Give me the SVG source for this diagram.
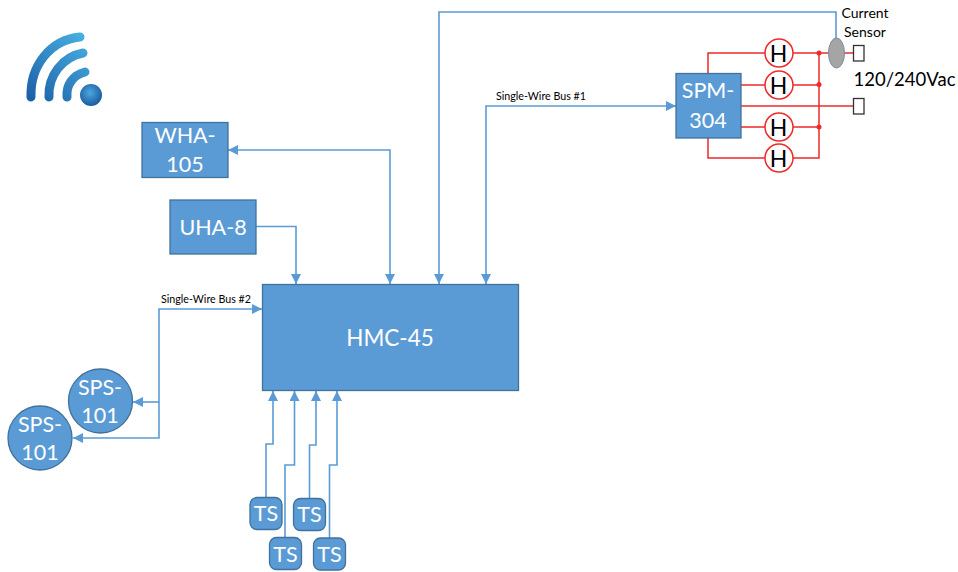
<svg xmlns="http://www.w3.org/2000/svg" width="958" height="572" viewBox="0 0 958 572">
<style>
text{font-family:Lato,"Open Sans","Liberation Sans",sans-serif;text-anchor:middle}
.box{fill:#5b9bd5;stroke:#41719c;stroke-width:1.3}
.lbl{fill:#fff;font-size:21.500px}
.hmc{fill:#fff;font-size:22.500px}
.blue{fill:none;stroke:#5b9bd5;stroke-width:1.6}
.red{fill:none;stroke:#ee2a2a;stroke-width:1.5}
.h{fill:#fff;stroke:#ee2a2a;stroke-width:1.5}
.htext{fill:#000;font-size:23px}
.dark{fill:#000}
.dot{fill:#ee2a2a}
.plug{fill:#fff;stroke:#333;stroke-width:1.3}
.arc{fill:none;stroke:url(#wf);stroke-width:9;stroke-linecap:round}
</style>
<defs>
<marker id="a" markerUnits="userSpaceOnUse" markerWidth="11" markerHeight="11" refX="10" refY="5" orient="auto-start-reverse"><path d="M0,0L10,5L0,10Z" fill="#5b9bd5"/></marker>
<linearGradient id="wf" gradientUnits="userSpaceOnUse" x1="30" y1="100" x2="85" y2="35"><stop offset="0" stop-color="#1d5fa6"/><stop offset="1" stop-color="#48b0e2"/></linearGradient>
<radialGradient id="wd" cx="0.45" cy="0.4" r="0.6"><stop offset="0" stop-color="#4aa8e0"/><stop offset="1" stop-color="#1b5a9e"/></radialGradient>
<filter id="soft"><feGaussianBlur stdDeviation="0.6"/></filter>
</defs>
<g id="wifi-icon" filter="url(#soft)">
<path class="arc" d="M31,97C30,66 50,40 80,37"/>
<path class="arc" d="M49,97C48,76 62,57 83,53"/>
<path class="arc" d="M67,97C66,85 73,75 85,72"/>
<circle cx="91" cy="95" r="11" fill="url(#wd)"/>
</g>
<g id="connectors">
<path class="blue" marker-start="url(#a)" marker-end="url(#a)" d="M228,150H390V284"/>
<path class="blue" marker-end="url(#a)" d="M256,226.500H296V284"/>
<path class="blue" marker-end="url(#a)" d="M836,38V12H439V284"/>
<path class="blue" marker-start="url(#a)" marker-end="url(#a)" d="M486,284V106H676"/>
<path class="blue" marker-start="url(#a)" marker-end="url(#a)" d="M262,309H159V438H73"/>
<path class="blue" marker-end="url(#a)" d="M159,402H133"/>
<path class="blue" marker-end="url(#a)" d="M266,497V444H273V391"/>
<path class="blue" marker-end="url(#a)" d="M285,537V465H294.500V391"/>
<path class="blue" marker-end="url(#a)" d="M309.500,498V445H316V391"/>
<path class="blue" marker-end="url(#a)" d="M329.500,538V465H337V391"/>
<path class="red" d="M708,73V53H765M793,53H828M844,53H853"/>
<path class="red" d="M741,85H765M793,85H819"/>
<path class="red" d="M741,106H853"/>
<path class="red" d="M741,127H765M793,127H819"/>
<path class="red" d="M708,138V158H765M793,158H819V53"/>
<circle class="dot" cx="819" cy="53" r="2.500"/>
<circle class="dot" cx="819" cy="84.500" r="2.500"/>
<circle class="dot" cx="819" cy="127" r="2.500"/>
</g>
<g id="hmc-45"><rect class="box" x="262.500" y="284.500" width="256" height="106"/><text class="hmc" x="390" y="346">HMC-45</text></g>
<g id="wha-105"><rect class="box" x="142" y="122.500" width="86" height="55"/><text class="lbl" x="185" y="143">WHA-</text><text class="lbl" x="185" y="172">105</text></g>
<g id="uha-8"><rect class="box" x="170" y="200" width="86" height="54"/><text class="lbl" x="213" y="235">UHA-8</text></g>
<g id="spm-304"><rect class="box" x="676" y="73.500" width="65" height="64.500"/><text class="lbl" x="708" y="98">SPM-</text><text class="lbl" x="708" y="128">304</text></g>
<g id="sps-101-a"><circle class="box" cx="100.500" cy="401" r="32"/><text class="lbl" x="100" y="395">SPS-</text><text class="lbl" x="100" y="423">101</text></g>
<g id="sps-101-b"><circle class="box" cx="40" cy="438" r="32"/><text class="lbl" x="40" y="432">SPS-</text><text class="lbl" x="40" y="460">101</text></g>
<g id="ts-1"><rect class="box" x="250" y="497.500" width="32" height="32" rx="7"/><text class="lbl" x="266" y="521">TS</text></g>
<g id="ts-2"><rect class="box" x="269.500" y="537.500" width="32" height="32" rx="7"/><text class="lbl" x="285.500" y="562">TS</text></g>
<g id="ts-3"><rect class="box" x="293.500" y="498.500" width="32" height="32" rx="7"/><text class="lbl" x="309.500" y="522">TS</text></g>
<g id="ts-4"><rect class="box" x="313.500" y="538" width="32" height="32" rx="7"/><text class="lbl" x="329.500" y="562">TS</text></g>
<g id="h-1"><circle class="h" cx="779" cy="53" r="14"/><text class="htext" x="778.500" y="61.500">H</text></g>
<g id="h-2"><circle class="h" cx="779" cy="85" r="14"/><text class="htext" x="778.500" y="93.500">H</text></g>
<g id="h-3"><circle class="h" cx="779" cy="127" r="14"/><text class="htext" x="778.500" y="135.500">H</text></g>
<g id="h-4"><circle class="h" cx="779" cy="158" r="14"/><text class="htext" x="778.500" y="166.500">H</text></g>
<g id="current-sensor"><ellipse cx="836.500" cy="53" rx="8" ry="15" fill="#a5a5a5" stroke="#7a8a99" stroke-width="1"/><text class="dark" x="865" y="18" font-size="14">Current</text><text class="dark" x="865" y="37" font-size="14">Sensor</text></g>
<g id="plug-1"><rect class="plug" x="853.500" y="45.500" width="10.500" height="15.500"/></g>
<g id="plug-2"><rect class="plug" x="853.500" y="98.500" width="10.500" height="15.500"/></g>
<text class="dark" x="904.500" y="86" font-size="18.500">120/240Vac</text>
<text class="dark" x="541" y="100" font-size="10.700">Single-Wire Bus #1</text>
<text class="dark" x="206" y="303" font-size="10.700">Single-Wire Bus #2</text>
</svg>
